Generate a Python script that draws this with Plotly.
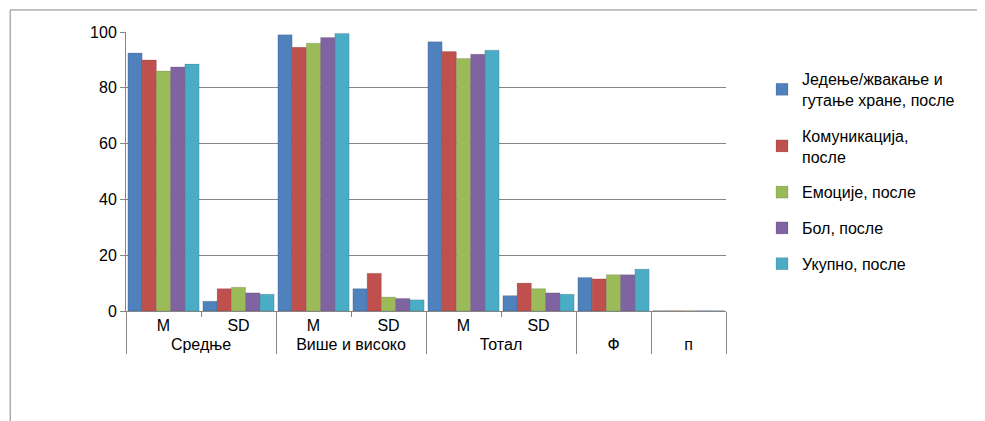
import plotly.graph_objects as go

groups = ["Средње", "Средње", "Више и високо", "Више и високо", "Тотал", "Тотал", "Ф", "п"]
stats = ["M", "SD", "M", "SD", "M", "SD", " ", "  "]

series_names = ["Једење/жвакање и<br>гутање хране, после", "Комуникација,<br>после",
                "Емоције, после", "Бол, после", "Укупно, после"]
colors = ["#4F81BD", "#C0504D", "#9BBB59", "#8064A2", "#4BACC6"]

jedenje = [92.5, 3.5, 99, 8, 96.5, 5.5, 12, 0.1]
komunikacija = [90, 8, 94.5, 13.5, 93, 10, 11.5, 0.1]
emocije = [86, 8.5, 96, 5, 90.5, 8, 13, 0.1]
bol = [87.5, 6.5, 98, 4.5, 92, 6.5, 13, 0.1]
ukupno = [88.5, 6, 99.5, 4, 93.5, 6, 15, 0.1]
values = [jedenje, komunikacija, emocije, bol, ukupno]

fig = go.Figure()
for i, (name, vals, c) in enumerate(zip(series_names, values, colors)):
    fig.add_trace(go.Bar(x=[groups, stats], y=vals, name=name, marker_color=c,
                         legendgroup=f"g{i}",
                         marker_line=dict(color="rgba(0,0,0,0.25)", width=0.5)))

fig.update_layout(
    width=985, height=421, barmode="group", bargap=0.05, bargroupgap=0,
    plot_bgcolor="white", paper_bgcolor="white",
    margin=dict(l=118, r=267, t=24, b=118),
    font=dict(family="Liberation Sans, Arial", size=16, color="black"),
    legend=dict(x=1.06, y=0.5, yanchor="middle", font=dict(size=16),
                tracegroupgap=12, itemwidth=30),
    showlegend=True,
)
fig.update_yaxes(range=[0, 100], dtick=20, gridcolor="#868686", linecolor="#868686",
                 showline=True, ticks="outside", tickcolor="#868686", ticklen=5)
fig.update_xaxes(showline=True, linecolor="#868686", showdividers=True,
                 dividercolor="#868686", tickson="boundaries", ticks="outside",
                 tickcolor="#868686")
fig.add_shape(type="rect", xref="paper", yref="paper", x0=-0.193, x1=1.44, y0=-0.416, y1=1.079,
              line=dict(color="#868686", width=1))
fig.write_html("out.html")
